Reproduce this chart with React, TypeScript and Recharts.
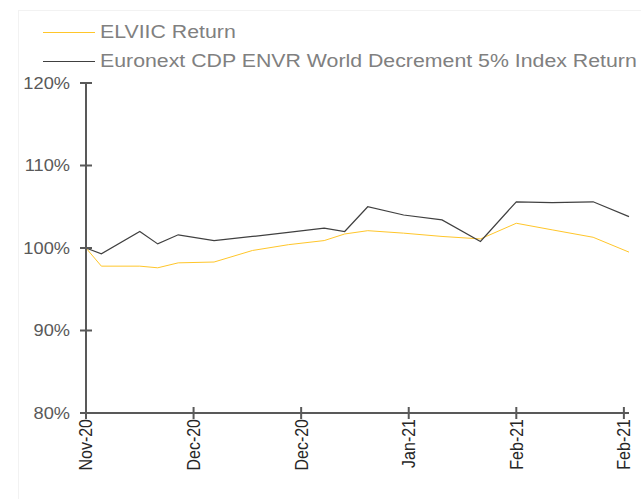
import React from "react";
import { LineChart, Line, XAxis, YAxis } from "recharts";

// days since first observation
const days = [0, 3, 10.5, 14, 18, 25, 32.5, 39.5, 46.5, 50.5, 55, 62, 69.5, 77, 84, 91, 99, 106];
const elviic = [100, 97.8, 97.8, 97.6, 98.2, 98.3, 99.7, 100.4, 100.9, 101.7, 102.1, 101.8, 101.4, 101.1, 103.0, 102.2, 101.3, 99.5];
const indexRet = [100, 99.3, 102.0, 100.5, 101.6, 100.9, 101.4, 101.9, 102.4, 102.0, 105.0, 104.0, 103.4, 100.8, 105.6, 105.5, 105.6, 103.8];

const xTicks = [0, 21, 42, 63, 84, 105];
const xLabels = ["Nov-20", "Dec-20", "Dec-20", "Jan-21", "Feb-21", "Feb-21"];
const yTicks = [80, 90, 100, 110, 120];

const seriesNames = ["ELVIIC Return", "Euronext CDP ENVR World Decrement 5% Index Return"];
const seriesColors = ["#FFC62A", "#404040"];

const FONT = '"Liberation Sans", Arial, sans-serif';
const AXIS = "#595959";
const STRETCH = 1.14;
const TICK = 6;
const GAP = 10;

const data = days.map((d, i) => ({ day: d, elviic: elviic[i], index: indexRet[i] }));

function YTick(props: any) {
  const { x, y, payload } = props;
  const ax = x + TICK + GAP;
  return (
    <g>
      <line x1={ax - TICK} x2={ax + TICK} y1={y} y2={y} stroke={AXIS} strokeWidth={2} />
      <text
        transform={`translate(${x},${y}) scale(${STRETCH},1)`}
        textAnchor="end"
        dy="0.355em"
        fontSize={16}
        fill={AXIS}
        fontFamily={FONT}
      >
        {payload.value}%
      </text>
    </g>
  );
}

function XTick(props: any) {
  const { x, y, payload } = props;
  const ay = y - TICK;
  const i = xTicks.indexOf(payload.value);
  return (
    <g>
      <line x1={x} x2={x} y1={ay - TICK} y2={ay + TICK} stroke={AXIS} strokeWidth={2} />
      <text
        transform={`translate(${x},${y}) scale(${STRETCH},1) rotate(-90)`}
        textAnchor="end"
        dy="0.355em"
        fontSize={16}
        fill="#262626"
        fontFamily={FONT}
      >
        {xLabels[i]}
      </text>
    </g>
  );
}

export default function App() {
  return (
    <div style={{ position: "absolute", left: 0, top: 0, width: 641, height: 499, background: "#fff", fontFamily: FONT }}>
      <div style={{ position: "absolute", left: 18, top: 10, width: 640, height: 500, border: "1px solid #f2f2f2" }} />
      {seriesNames.map((name, i) => (
        <div key={name} style={{ position: "absolute", left: 43, top: 20 + i * 29, height: 24, display: "flex", alignItems: "center" }}>
          <div style={{ width: 52, height: 1, background: seriesColors[i] }} />
          <span
            style={{
              marginLeft: 5,
              fontSize: 18.7,
              color: "#808080",
              whiteSpace: "nowrap",
              display: "inline-block",
              transform: `scaleX(${STRETCH})`,
              transformOrigin: "left center",
              lineHeight: "24px",
            }}
          >
            {name}
          </span>
        </div>
      ))}
      <LineChart
        width={641}
        height={499}
        data={data}
        margin={{ top: 83, right: 12, bottom: 0, left: 0 }}
        style={{ position: "absolute", left: 0, top: 0 }}
      >
        <XAxis
          dataKey="day"
          type="number"
          domain={[0, 106]}
          ticks={xTicks}
          height={86}
          tickSize={TICK}
          tickMargin={0}
          tickLine={false}
          axisLine={{ stroke: AXIS, strokeWidth: 2 }}
          tick={<XTick />}
          interval={0}
        />
        <YAxis
          type="number"
          domain={[80, 120]}
          ticks={yTicks}
          width={86}
          tickSize={TICK}
          tickMargin={GAP}
          tickLine={false}
          axisLine={{ stroke: AXIS, strokeWidth: 2 }}
          tick={<YTick />}
          interval={0}
        />
        <Line
          dataKey="elviic"
          name={seriesNames[0]}
          type="linear"
          stroke={seriesColors[0]}
          strokeWidth={1}
          dot={false}
          isAnimationActive={false}
        />
        <Line
          dataKey="index"
          name={seriesNames[1]}
          type="linear"
          stroke={seriesColors[1]}
          strokeWidth={1.2}
          dot={false}
          isAnimationActive={false}
        />
      </LineChart>
    </div>
  );
}
